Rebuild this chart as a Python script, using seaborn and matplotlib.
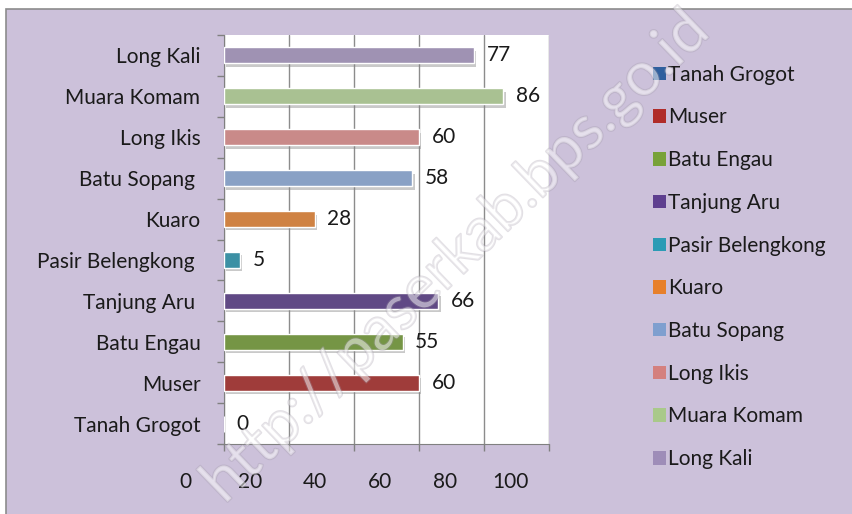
import pandas as pd
import seaborn as sns
import matplotlib.pyplot as plt
import matplotlib.patheffects as pe
from matplotlib.patches import Rectangle
from matplotlib.transforms import ScaledTranslation

# data
kecamatan = ["Tanah Grogot", "Muser", "Batu Engau", "Tanjung Aru", "Pasir Belengkong",
             "Kuaro", "Batu Sopang", "Long Ikis", "Muara Komam", "Long Kali"]
nilai = [0, 60, 55, 66, 5, 28, 58, 60, 86, 77]
ytick_labels = ["Tanah Grogot", "Muser", "Batu Engau", "Tanjung Aru ", "Pasir Belengkong ",
                "Kuaro", "Batu Sopang ", "Long Ikis", "Muara Komam", "Long Kali"]
warna = ["#2F5F9E", "#B02C29", "#78A238", "#5E3F8F", "#2B9BB5",
         "#E7802B", "#7F9FCF", "#D4807E", "#A9C98A", "#9E8DB8"]
xticks = [0, 20, 40, 60, 80, 100]

df = pd.DataFrame({"kecamatan": kecamatan, "nilai": nilai})
urutan = kecamatan[::-1]  # top of the axis = Long Kali

sns.set_style("white")
plt.rcParams["font.family"] = ["Lato", "DejaVu Sans"]

fig = plt.figure(figsize=(8.53, 5.14), dpi=100, facecolor="white")
# lavender chart area with grey frame
fig.patches.append(Rectangle((6 / 853, -0.1), 1.2, 1.1 - 9 / 514, transform=fig.transFigure,
                             facecolor="#CCC1DA", edgecolor="#8C8C8C", linewidth=1.2, zorder=-5))

ax = fig.add_axes([224 / 853, 1 - 444 / 514, 325 / 853, 409 / 514])
ax.set_facecolor("white")

sns.barplot(data=df, x="nilai", y="kecamatan", hue="kecamatan", order=urutan,
            hue_order=kecamatan, palette=warna, orient="h", dodge=False, width=0.39,
            legend=False, ax=ax, zorder=3)

for bar in ax.patches:
    bar.set_path_effects([pe.SimplePatchShadow(offset=(1.5, -2.5), shadow_rgbFace="#888888", alpha=0.45),
                          pe.Normal()])
for c in ax.containers:
    ax.bar_label(c, padding=9, fontsize=15, color="#1a1a1a")

ax.set_xlim(0, 100)
ax.set_xticks(xticks)
ax.set_xticklabels([str(v) for v in xticks], fontsize=15, color="#1a1a1a")
ax.tick_params(axis="x", length=5, width=1, color="#808080", pad=15, direction="out", bottom=True)
ax.grid(axis="x", color="#8C8C8C", linewidth=1, zorder=0)
ax.set_axisbelow(True)

ax.set_yticks(range(len(urutan)))
ax.set_yticklabels(ytick_labels[::-1], fontsize=15, color="#1a1a1a")
ax.set_yticks([i - 0.5 for i in range(len(urutan) + 1)], minor=True)
ax.tick_params(axis="y", which="major", length=0, pad=17)
ax.tick_params(axis="y", which="minor", length=5, width=1, color="#808080", left=True, direction="out")
ax.set_xlabel("")
ax.set_ylabel("")

# x labels sit left of their gridlines, as in the original
for lab in ax.get_xticklabels():
    lab.set_transform(lab.get_transform() + ScaledTranslation(-0.39, 0, fig.dpi_scale_trans))

for s in ["top", "right"]:
    ax.spines[s].set_visible(False)
ax.spines["left"].set_color("#808080")
ax.spines["bottom"].set_color("#808080")

# legend
handles = [Rectangle((0, 0), 1, 1, facecolor=c, edgecolor="none") for c in warna]
fig.legend(handles, kecamatan, loc="upper left", bbox_to_anchor=(634 / 853, 1 - 46 / 514),
           frameon=False, fontsize=15, handlelength=0.62, handleheight=0.62,
           handletextpad=0.12, labelspacing=1.09, labelcolor="#1a1a1a")

# watermark
fig.text(0.535, 0.5, "http://paserkab.bps.go.id", rotation=44, fontsize=44,
         ha="center", va="center", color="white", alpha=0.3,
         path_effects=[pe.withStroke(linewidth=1.5, foreground="#a098a8")], zorder=10)

fig.savefig("out.png", dpi=100, facecolor=fig.get_facecolor())
